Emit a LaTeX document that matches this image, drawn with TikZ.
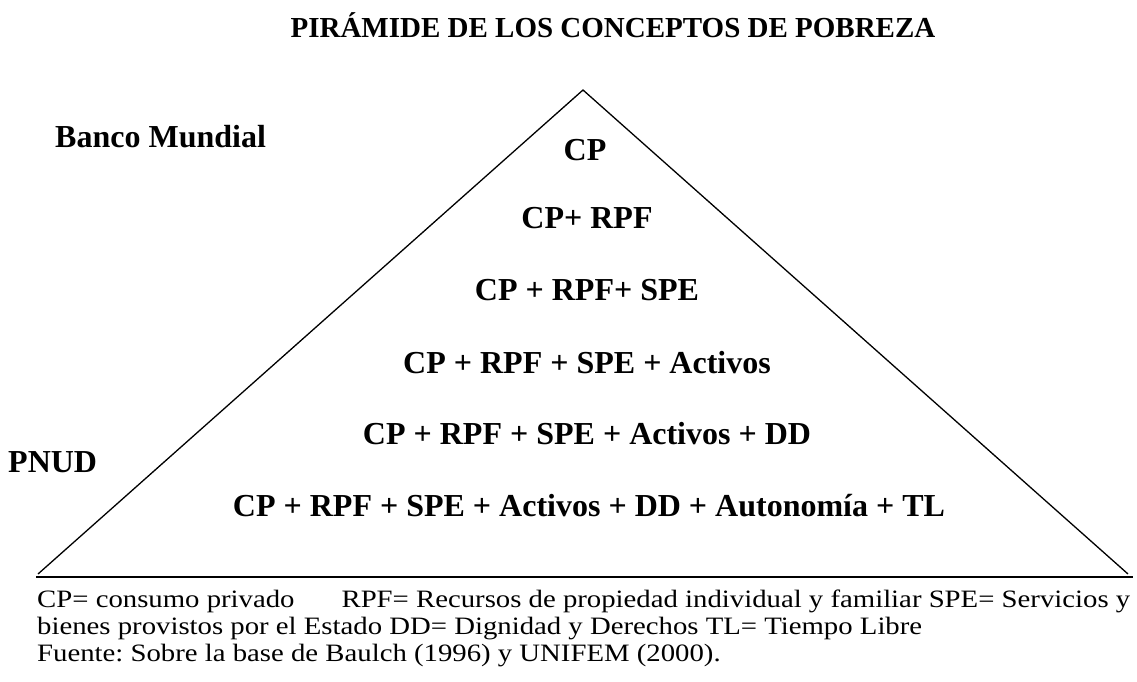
\documentclass[tikz,border=0pt]{standalone}
\usepackage{fontspec}
\setmainfont{Liberation Serif}
\newfontfamily\legendfont[FakeStretch=1.15]{Liberation Serif}
\tikzset{
  lvl/.style={anchor=base, inner sep=0pt, font=\fontsize{32}{36}\selectfont\bfseries},
  side/.style={anchor=base west, inner sep=0pt, font=\fontsize{32}{36}\selectfont\bfseries},
  legend/.style={anchor=base west, inner sep=0pt, font=\legendfont\fontsize{25}{27}\selectfont\frenchspacing}
}
\begin{document}
\begin{tikzpicture}[x=1pt, y=-1pt]
            \useasboundingbox (0,0) rectangle (1137,681);

            \node[anchor=base, inner sep=0pt, font=\fontsize{29}{33}\selectfont\bfseries] (title) at (613,37) {PIRÁMIDE DE LOS CONCEPTOS DE POBREZA};

            \coordinate (apex) at (583,90);
            \coordinate (left) at (38,574);
            \coordinate (right) at (1128,574);
            \coordinate (baseL) at (36,577);
            \coordinate (baseR) at (1133,577);

            \draw[black, line width=1.3pt] (left) -- (apex) -- (right);
            \draw[black, line width=1.3pt] (baseL) -- (baseR);

            \node[side] (bm) at (55,147) {Banco Mundial};
            \node[side] (pnud) at (8,472) {PNUD};

            \node[lvl] (l1) at (585,160) {CP};
            \node[lvl] (l2) at (587,228) {CP+ RPF};
            \node[lvl] (l3) at (587,300) {CP + RPF+ SPE};
            \node[lvl] (l4) at (587,373) {CP + RPF + SPE + Activos};
            \node[lvl] (l5) at (587,444) {CP + RPF + SPE + Activos + DD};
            \node[lvl] (l6) at (589,516) {CP + RPF + SPE + Activos + DD + Autonomía + TL};

            \node[legend] (leg1) at (37,607) {CP= consumo privado\hspace{47pt}RPF= Recursos de propiedad individual y familiar SPE= Servicios y};
            \node[legend] (leg2) at (37,634) {bienes provistos por el Estado DD= Dignidad y Derechos TL= Tiempo Libre};
            \node[legend] (leg3) at (37,661) {Fuente: Sobre la base de Baulch (1996) y UNIFEM (2000).};
        \end{tikzpicture}
\end{document}
